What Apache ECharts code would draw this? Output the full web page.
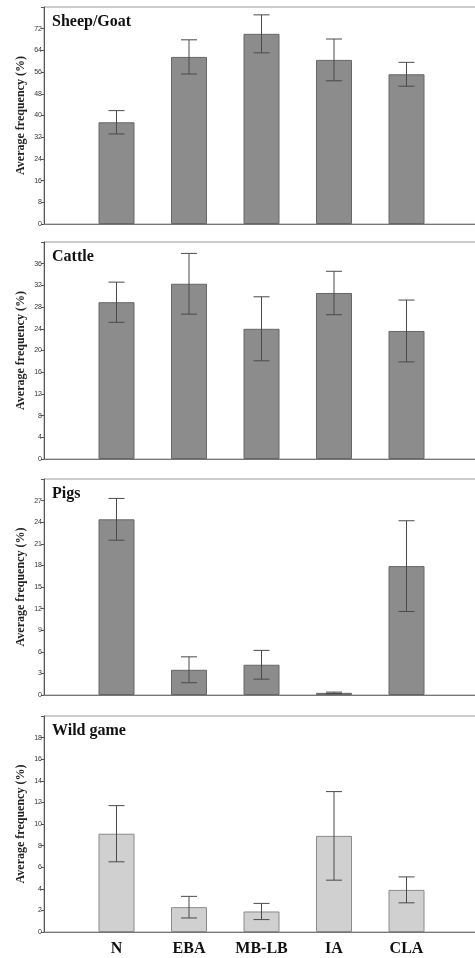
<!DOCTYPE html>
<html>
<head>
<meta charset="utf-8">
<script src="https://cdn.jsdelivr.net/npm/echarts@6/dist/echarts.min.js"></script>
<style>html,body{margin:0;padding:0;background:#fff}#c{width:475px;height:958px}</style>
</head>
<body>
<div id="c"></div>
<script>
var categories = ['N', 'EBA', 'MB-LB', 'IA', 'CLA'];
var panelTitles = ['Sheep/Goat', 'Cattle', 'Pigs', 'Wild game'];
var sheepMean = [37.5, 61.6, 70.1, 60.5, 55.2];
var sheepErr  = [4.3, 6.3, 7.0, 7.7, 4.4];
var cattleMean = [28.9, 32.3, 24.0, 30.6, 23.6];
var cattleErr  = [3.7, 5.6, 5.9, 4.0, 5.7];
var pigsMean = [24.4, 3.5, 4.2, 0.3, 17.9];
var pigsErr  = [2.9, 1.8, 2.0, 0.1, 6.3];
var wildMean = [9.1, 2.3, 1.9, 8.9, 3.9];
var wildErr  = [2.6, 1.0, 0.75, 4.1, 1.2];
var yMax = [80, 40, 30, 20];
var yInterval = [8, 4, 3, 2];

var means = [sheepMean, cattleMean, pigsMean, wildMean];
var errs = [sheepErr, cattleErr, pigsErr, wildErr];

var gridTops = [7, 242, 479, 716];
var gridH = [217, 217, 216, 216];
var barColors = ['#8c8c8c', '#8c8c8c', '#8c8c8c', '#d0d0d0'];
var barBorders = ['#666', '#666', '#666', '#8a8a8a'];

var axisCats = [''].concat(categories).concat(['']);

var option = {
  animation: false,
  backgroundColor: '#fff',
  title: [], grid: [], xAxis: [], yAxis: [], series: []
};

for (var i = 0; i < 4; i++) {
  option.title.push({
    text: panelTitles[i], left: 52, top: gridTops[i] + 7, padding: 0,
    textStyle: { fontFamily: 'Liberation Serif', fontWeight: 'bold', fontSize: 16, color: '#111' }
  });
  option.grid.push({
    left: 44, right: -4, top: gridTops[i], height: gridH[i],
    outerBoundsMode: 'none', containLabel: false,
    show: true, borderColor: '#9a9a9a', borderWidth: 1, backgroundColor: 'transparent'
  });
  option.xAxis.push({
    type: 'category', gridIndex: i, data: axisCats, boundaryGap: false,
    axisLine: { lineStyle: { color: '#777', width: 1 } },
    axisTick: { show: false },
    axisLabel: {
      show: i === 3, interval: 0, margin: 9,
      fontFamily: 'Liberation Serif', fontWeight: 'bold', fontSize: 16, color: '#111'
    }
  });
  (function (idx) {
    option.yAxis.push({
      type: 'value', gridIndex: idx, min: 0, max: yMax[idx], interval: yInterval[idx],
      name: 'Average frequency (%)', nameLocation: 'middle', nameGap: 17, nameRotate: 90,
      nameMoveOverlap: false,
      nameTextStyle: { fontFamily: 'Liberation Serif', fontWeight: 'bold', fontSize: 12, color: '#222' },
      axisLine: { show: true, lineStyle: { color: '#555', width: 1 } },
      axisTick: { show: true, length: 3, lineStyle: { color: '#555' } },
      splitLine: { show: false },
      axisLabel: {
        margin: 2, fontSize: 7, color: '#333', fontFamily: 'Liberation Sans',
        formatter: function (v) { return v >= yMax[idx] ? '' : String(v); }
      }
    });
  })(i);
  option.series.push({
    type: 'bar', xAxisIndex: i, yAxisIndex: i, barWidth: 36,
    data: [null].concat(means[i]).concat([null]),
    itemStyle: { color: barColors[i], borderColor: barBorders[i], borderWidth: 1 },
    z: 2
  });
  option.series.push({
    type: 'custom', xAxisIndex: i, yAxisIndex: i, z: 3,
    data: means[i].map(function (m, k) { return [k + 1, m - errs[i][k], m + errs[i][k]]; }),
    renderItem: function (params, api) {
      var lo = api.coord([api.value(0), api.value(1)]);
      var hi = api.coord([api.value(0), api.value(2)]);
      var cw = 8;
      var st = { stroke: '#4a4a4a', lineWidth: 1 };
      return {
        type: 'group',
        children: [
          { type: 'line', shape: { x1: hi[0], y1: hi[1], x2: lo[0], y2: lo[1] }, style: st },
          { type: 'line', shape: { x1: hi[0] - cw, y1: hi[1], x2: hi[0] + cw, y2: hi[1] }, style: st },
          { type: 'line', shape: { x1: lo[0] - cw, y1: lo[1], x2: lo[0] + cw, y2: lo[1] }, style: st }
        ]
      };
    }
  });
}

var chart = echarts.init(document.getElementById('c'), null, { renderer: 'canvas' });
chart.setOption(option);
</script>
</body>
</html>
